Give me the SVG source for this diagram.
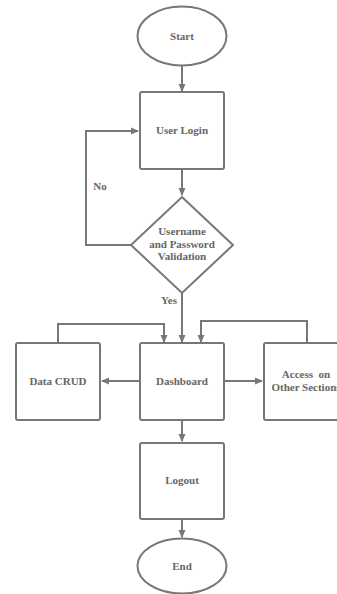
<svg xmlns="http://www.w3.org/2000/svg" width="337" height="594" viewBox="0 0 337 594">
<style>
.s{fill:#fff;stroke:#777;stroke-width:2}
.c{fill:none;stroke:#777;stroke-width:2}
text{font-family:"Liberation Serif",serif;font-weight:bold;font-size:11px;fill:#666;text-anchor:middle}
</style>
<defs>
<marker id="a" markerWidth="8" markerHeight="8" refX="7" refY="4" orient="auto" markerUnits="userSpaceOnUse">
<path d="M0,0.5 L8,4 L0,7.5 Z" fill="#777"/>
</marker>
</defs>
<rect width="337" height="594" fill="#fff"/>
<g id="connectors">
<line class="c" x1="182" y1="66" x2="182" y2="91" marker-end="url(#a)"/>
<line class="c" x1="182" y1="169" x2="182" y2="195" marker-end="url(#a)"/>
<polyline class="c" points="131,245 86,245 86,131 138,131" marker-end="url(#a)"/>
<line class="c" x1="182" y1="293" x2="182" y2="342" marker-end="url(#a)"/>
<line class="c" x1="140" y1="381" x2="102" y2="381" marker-end="url(#a)"/>
<line class="c" x1="224" y1="381" x2="262" y2="381" marker-end="url(#a)"/>
<polyline class="c" points="58,343 58,324 164,324 164,342" marker-end="url(#a)"/>
<polyline class="c" points="307,343 307,321 201,321 201,342" marker-end="url(#a)"/>
<line class="c" x1="182" y1="420" x2="182" y2="441" marker-end="url(#a)"/>
<line class="c" x1="182" y1="519" x2="182" y2="537" marker-end="url(#a)"/>
<text x="100" y="190">No</text>
<text x="169" y="304">Yes</text>
</g>
<g id="start"><ellipse class="s" cx="182" cy="36" rx="44.5" ry="29.5"/><text x="182" y="40">Start</text></g>
<g id="login"><rect class="s" x="140" y="92" width="84" height="77" rx="2"/><text x="182" y="134">User Login</text></g>
<g id="validation"><polygon class="s" points="182,197 233,245 182,293 131,245"/>
<text x="182" y="235">Username</text><text x="182" y="248">and Password</text><text x="182" y="260">Validation</text></g>
<g id="crud"><rect class="s" x="16" y="343" width="84" height="77" rx="2"/><text x="58" y="385">Data CRUD</text></g>
<g id="dashboard"><rect class="s" x="140" y="343" width="84" height="77" rx="2"/><text x="182" y="385">Dashboard</text></g>
<g id="access"><rect class="s" x="264" y="343" width="84" height="77" rx="2"/><text x="306" y="378">Access&#160;&#160;on</text><text x="306" y="391">Other Sections</text></g>
<g id="logout"><rect class="s" x="140" y="443" width="84" height="76" rx="2"/><text x="182" y="484">Logout</text></g>
<g id="end"><ellipse class="s" cx="182" cy="566" rx="44.5" ry="27.5"/><text x="182" y="570">End</text></g>
</svg>
